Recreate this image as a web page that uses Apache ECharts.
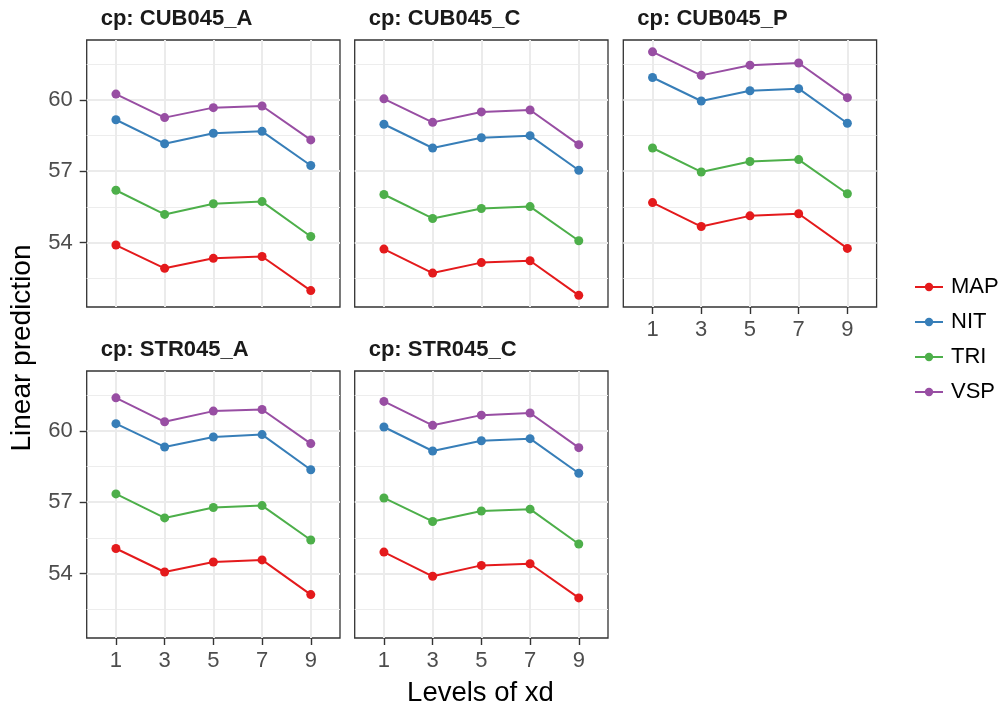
<!DOCTYPE html>
<html>
<head>
<meta charset="utf-8">
<script src="https://cdn.jsdelivr.net/npm/echarts@6/dist/echarts.min.js"></script>
<style>
  html, body { margin: 0; padding: 0; background: #fff; }
  #chart { width: 999px; height: 709px; }
</style>
</head>
<body>
<div id="chart"></div>
<script>
// Levels of xd shown on the x axis
const levels = [1, 3, 5, 7, 9];
const groups = ['MAP', 'NIT', 'TRI', 'VSP'];
const groupColors = ['#E41A1C', '#377EB8', '#4DAF4A', '#984EA3'];
const panelNames = ['CUB045_A', 'CUB045_C', 'CUB045_P', 'STR045_A', 'STR045_C'];

// Linear predictions per panel; rows follow `groups`, columns follow `levels`
const cub045A = [
  [53.89, 52.91, 53.33, 53.41, 51.97],
  [59.17, 58.16, 58.60, 58.68, 57.24],
  [56.20, 55.18, 55.63, 55.72, 54.25],
  [60.25, 59.26, 59.68, 59.75, 58.32]
];
const cub045C = [
  [53.72, 52.71, 53.15, 53.23, 51.77],
  [58.98, 57.98, 58.41, 58.50, 57.04],
  [56.02, 55.01, 55.43, 55.51, 54.07],
  [60.05, 59.06, 59.50, 59.58, 58.12]
];
const cub045P = [
  [55.68, 54.67, 55.12, 55.21, 53.75],
  [60.95, 59.96, 60.39, 60.48, 59.02],
  [57.98, 56.97, 57.41, 57.49, 56.05],
  [62.03, 61.04, 61.47, 61.56, 60.10]
];
const str045A = [
  [55.05, 54.06, 54.48, 54.57, 53.11],
  [60.31, 59.33, 59.75, 59.85, 58.37],
  [57.35, 56.34, 56.78, 56.86, 55.41],
  [61.40, 60.39, 60.84, 60.91, 59.47]
];
const str045C = [
  [54.90, 53.88, 54.34, 54.41, 52.97],
  [60.17, 59.16, 59.59, 59.68, 58.22],
  [57.18, 56.19, 56.63, 56.71, 55.24],
  [61.25, 60.24, 60.67, 60.76, 59.30]
];
const panelData = [cub045A, cub045C, cub045P, str045A, str045C];

// Axis ticks
const yMajorTicks = [54, 57, 60];
const yMinorTicks = [52.5, 55.5, 58.5, 61.5];

const FONT = '"Liberation Sans", Arial, Helvetica, sans-serif';
const yRange = [51.28, 62.53];
// discrete x positions 1..5 with 0.6 padding either side
const xPos = levels.map((_, i) => i + 1);
const xRange = [0.4, 5.6];

// panel layout: [left, top], all panels share width/height
const panelW = 253.3, panelH = 267;
const panelPos = [
  [86.7, 40], [354.7, 40], [623.3, 40],
  [86.7, 371], [354.7, 371]
];
const showX = [false, false, true, true, true];
const showY = [true, false, false, true, false];

const gridMajor = { color: '#EBEBEB', width: 2 };
const gridMinor = { color: '#EDEDED', width: 1.1 };

const grids = [], xAxes = [], yAxes = [], series = [], titles = [];

panelPos.forEach((pos, p) => {
  grids.push({
    left: pos[0], top: pos[1], width: panelW, height: panelH,
    show: true, backgroundColor: '#fff', borderColor: '#333333', borderWidth: 1.3,
    containLabel: false, outerBoundsMode: 'none'
  });
  xAxes.push({
    type: 'value', gridIndex: p, min: xRange[0], max: xRange[1],
    axisLine: { show: false },
    axisTick: { show: showX[p], customValues: xPos, length: 7,
      lineStyle: { color: '#333333', width: 1.4 } },
    axisLabel: { show: showX[p], customValues: xPos, margin: 12,
      fontSize: 22, color: '#4D4D4D', fontFamily: FONT,
      formatter: v => String(levels[Math.round(v) - 1]) },
    splitLine: { show: true, lineStyle: gridMajor }
  });
  yAxes.push({
    type: 'value', gridIndex: p, min: yRange[0], max: yRange[1], position: 'left',
    axisLine: { show: false },
    axisTick: { show: showY[p], customValues: yMajorTicks, length: 7,
      lineStyle: { color: '#333333', width: 1.4 } },
    axisLabel: { show: showY[p], customValues: yMajorTicks, margin: 14,
      fontSize: 22, color: '#4D4D4D', fontFamily: FONT },
    splitLine: { show: true, lineStyle: gridMajor }
  });
  yAxes.push({
    type: 'value', gridIndex: p, min: yRange[0], max: yRange[1], position: 'left',
    axisLine: { show: false },
    axisTick: { show: false, customValues: yMinorTicks },
    axisLabel: { show: false, customValues: yMinorTicks },
    splitLine: { show: true, lineStyle: gridMinor }
  });
  titles.push({
    text: 'cp: ' + panelNames[p],
    left: pos[0] + 14, top: pos[1] - 32,
    textStyle: { fontSize: 22, fontWeight: 'bold', color: '#1A1A1A', fontFamily: FONT },
    padding: 0
  });
  panelData[p].forEach((vals, g) => {
    series.push({
      type: 'line', name: groups[g], xAxisIndex: p, yAxisIndex: 2 * p,
      data: vals.map((v, i) => [xPos[i], v]),
      color: groupColors[g],
      symbol: 'circle', symbolSize: 9, showSymbol: true,
      lineStyle: { width: 2, color: groupColors[g] },
      itemStyle: { color: groupColors[g] },
      emphasis: { disabled: true }, silent: true, z: 3
    });
  });
});

const chart = echarts.init(document.getElementById('chart'), null, { renderer: 'canvas' });
chart.setOption({
  animation: false,
  backgroundColor: '#fff',
  title: titles,
  grid: grids,
  xAxis: xAxes,
  yAxis: yAxes,
  series: series,
  legend: {
    data: groups, orient: 'vertical', left: 914, top: 276, padding: 0,
    itemWidth: 28, itemHeight: 10.5, itemGap: 13,
    textStyle: { fontSize: 22, color: '#000', fontFamily: FONT, lineHeight: 22,
      padding: [0, 0, 0, 3] },
    selectedMode: false
  },
  graphic: [
    { type: 'text', x: 22, y: 348, rotation: Math.PI / 2,
      style: { text: 'Linear prediction', fontSize: 28, fontFamily: FONT, fill: '#000',
        align: 'center', verticalAlign: 'middle' } },
    { type: 'text', x: 480.5, y: 693,
      style: { text: 'Levels of xd', fontSize: 27.5, fontFamily: FONT, fill: '#000',
        align: 'center', verticalAlign: 'middle' } }
  ]
});
</script>
</body>
</html>
